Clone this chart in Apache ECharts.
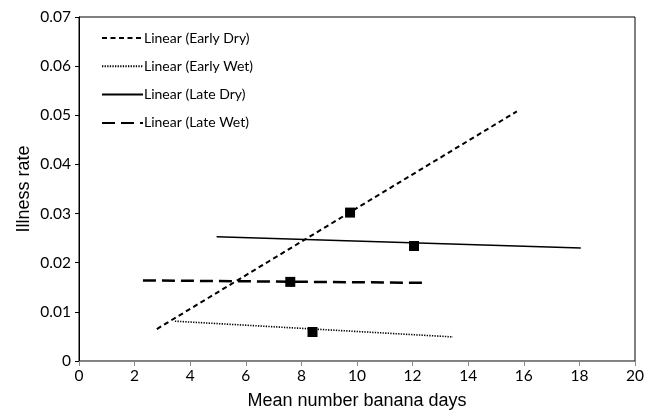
<!DOCTYPE html>
<html>
<head>
<meta charset="utf-8">
<script src="https://cdn.jsdelivr.net/npm/echarts@6/dist/echarts.min.js"></script>
<style>html,body{margin:0;padding:0;background:#fff}#c{width:654px;height:411px}</style>
</head>
<body>
<div id="c"></div>
<script>
// Data
const seriesNames = ['Linear (Early Dry)', 'Linear (Early Wet)', 'Linear (Late Dry)', 'Linear (Late Wet)'];
// trend line endpoints [x, y]
const earlyDryLine = [[2.8, 0.0065], [15.75, 0.0508]];
const earlyWetLine = [[3.45, 0.0081], [13.45, 0.0049]];
const lateDryLine = [[4.95, 0.0253], [18.05, 0.0230]];
const lateWetLine = [[2.3, 0.0164], [12.55, 0.0159]];
// observed points
const observedPoints = [[9.75, 0.0302], [8.4, 0.0059], [12.05, 0.0234], [7.6, 0.0161]];
const xTicks = [0, 2, 4, 6, 8, 10, 12, 14, 16, 18, 20];
const yTicks = [0, 0.01, 0.02, 0.03, 0.04, 0.05, 0.06, 0.07];

const tickFont = { fontFamily: 'Lato', fontSize: 15.5, color: '#000' };

const chart = echarts.init(document.getElementById('c'), null, { renderer: 'canvas' });
chart.setOption({
  animation: false,
  backgroundColor: '#fff',
  grid: { left: 79, right: 19, top: 17, bottom: 50, show: true, borderColor: '#000', borderWidth: 1,
          containLabel: false, outerBoundsMode: 'none' },
  legend: {
    orient: 'vertical',
    left: 96,
    top: 26,
    itemWidth: 41,
    itemHeight: 14,
    itemGap: 14.3,
    data: seriesNames,
    itemStyle: { opacity: 0 },
    textStyle: { fontFamily: 'Lato', fontSize: 14, color: '#000', padding: [0, 0, 0, -4] },
  },
  xAxis: {
    type: 'value',
    min: xTicks[0], max: xTicks[xTicks.length - 1], interval: 2,
    name: 'Mean number banana days',
    nameLocation: 'middle', nameGap: 31, nameMoveOverlap: false,
    nameTextStyle: { fontFamily: 'Liberation Sans', fontSize: 18, color: '#000' },
    axisLine: { lineStyle: { color: '#888', width: 1 } },
    axisTick: { show: true, length: 5, lineStyle: { color: '#888' } },
    axisLabel: Object.assign({ margin: 7 }, tickFont),
    splitLine: { show: false },
  },
  yAxis: {
    type: 'value',
    min: yTicks[0], max: yTicks[yTicks.length - 1], interval: 0.01,
    name: 'Illness rate',
    nameLocation: 'middle', nameGap: 46, nameMoveOverlap: false,
    nameTextStyle: { fontFamily: 'Liberation Sans', fontSize: 18, color: '#000' },
    axisLine: { show: true, lineStyle: { color: '#000', width: 1 } },
    axisTick: { show: true, length: 4, lineStyle: { color: '#000' } },
    axisLabel: Object.assign({ margin: 8, formatter: v => (v === 0 ? '0' : v.toFixed(2)) }, tickFont),
    splitLine: { show: false },
  },
  series: [
    { name: seriesNames[0], type: 'line', data: earlyDryLine, symbol: 'none', color: '#000',
      lineStyle: { color: '#000', width: 2, type: [5, 3.5] } },
    { name: seriesNames[1], type: 'line', data: earlyWetLine, symbol: 'none', color: '#000',
      lineStyle: { color: '#000', width: 1.6, type: [1.3, 1.3] } },
    { name: seriesNames[2], type: 'line', data: lateDryLine, symbol: 'none', color: '#000',
      lineStyle: { color: '#000', width: 1.5, type: 'solid' } },
    { name: seriesNames[3], type: 'line', data: lateWetLine, symbol: 'none', color: '#000',
      lineStyle: { color: '#000', width: 2.5, type: [13, 6] } },
    { name: 'Observed', type: 'scatter', data: observedPoints, symbol: 'rect', symbolSize: 10,
      itemStyle: { color: '#000', opacity: 1 }, z: 5 },
  ],
});
</script>
</body>
</html>
